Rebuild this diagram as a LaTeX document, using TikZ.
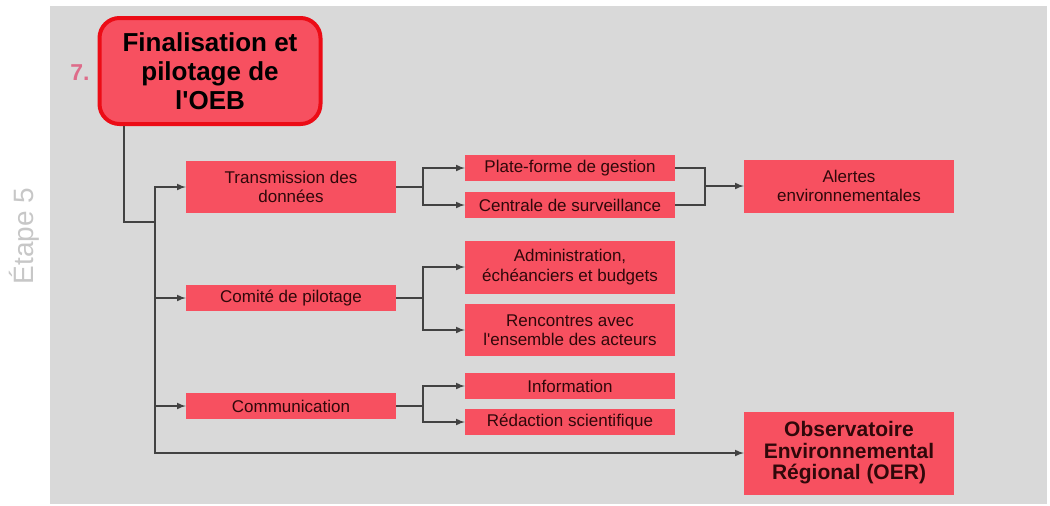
\documentclass[tikz,border=0pt]{standalone}
\usepackage{fontspec}
\setmainfont{Liberation Sans}
\usetikzlibrary{arrows}
\definecolor{boxred}{RGB}{247,80,96}
\definecolor{edgered}{RGB}{236,12,22}
\definecolor{panelgray}{RGB}{217,217,217}
\definecolor{wiregray}{RGB}{66,66,66}
\definecolor{numpink}{RGB}{222,108,138}
\definecolor{inkred}{RGB}{48,8,10}

\begin{document}
\begin{tikzpicture}[x=1pt,y=1pt,
    box/.style={fill=boxred,text=inkred,inner sep=0pt,minimum width=210pt,align=center,
      font=\fontsize{17}{19.5}\selectfont},
    bigbox/.style={box,font=\fontsize{21}{21.5}\selectfont\bfseries},
    headbox/.style={box,draw=edgered,line width=4pt,rounded corners=20pt,minimum width=221pt,
      minimum height=106pt,text=black,font=\fontsize{26}{29}\selectfont\bfseries},
    wire/.style={draw=wiregray,line width=2pt},
    feed/.style={wire,-latex}]
          \useasboundingbox (0,0) rectangle (1050,-506);
          \fill[panelgray] (50,-6) rectangle (1047,-504);

          \node[rotate=90,text=black!22,font=\fontsize{28}{28}\selectfont] (etape) at (24,-236) {Étape 5};
          \node[text=numpink,font=\fontsize{23}{23}\selectfont\bfseries] (num) at (80,-73) {7.};
          \node[headbox] (fin) at (210,-71) {Finalisation et\\pilotage de\\l\textquotesingle OEB};

          \node[box,minimum height=52pt] (trans) at (291,-187) {Transmission des\\données};
          \node[box,minimum height=26pt] (comite) at (291,-298) {Comité de pilotage};
          \node[box,minimum height=26pt] (comm) at (291,-406) {Communication};

          \node[box,minimum height=26pt] (plate) at (570,-168) {Plate-forme de gestion};
          \node[box,minimum height=26pt] (central) at (570,-205) {Centrale de surveillance};
          \node[box,minimum height=53pt] (admin) at (570,-267) {Administration,\\échéanciers et budgets};
          \node[box,minimum height=52pt] (renc) at (570,-330) {Rencontres avec\\l\textquotesingle ensemble des acteurs};
          \node[box,minimum height=26pt] (info) at (570,-386) {Information};
          \node[box,minimum height=26pt] (redac) at (570,-422) {Rédaction scientifique};

          \node[box,minimum height=53pt] (alert) at (849,-186) {Alertes\\environnementales};
          \node[bigbox,minimum height=83pt] (oer) at (849,-453) {Observatoire\\Environnemental\\Régional (OER)};

          \coordinate (knee) at (124,-222);
          \coordinate (spine) at (155,-222);
          \coordinate (fork1) at (423,-187);
          \coordinate (fork2) at (423,-298);
          \coordinate (fork3) at (423,-406);
          \coordinate (join) at (705,-186);

          \draw[wire] (fin.south -| knee) -- (knee) -- (spine);
          \draw[feed] (spine) |- (trans);
          \draw[feed] (spine) |- (comite);
          \draw[feed] (spine) |- (comm);
          \draw[feed] (spine) |- (oer);

          \draw[wire] (trans) -- (fork1);
          \draw[feed] (fork1) |- (plate);
          \draw[feed] (fork1) |- (central);
          \draw[wire] (comite) -- (fork2);
          \draw[feed] (fork2) |- (admin);
          \draw[feed] (fork2) |- (renc);
          \draw[wire] (comm) -- (fork3);
          \draw[feed] (fork3) |- (info);
          \draw[feed] (fork3) |- (redac);

          \draw[wire] (plate) -| (join);
          \draw[wire] (central) -| (join);
          \draw[feed] (join) -- (alert);
         \end{tikzpicture}
\end{document}
